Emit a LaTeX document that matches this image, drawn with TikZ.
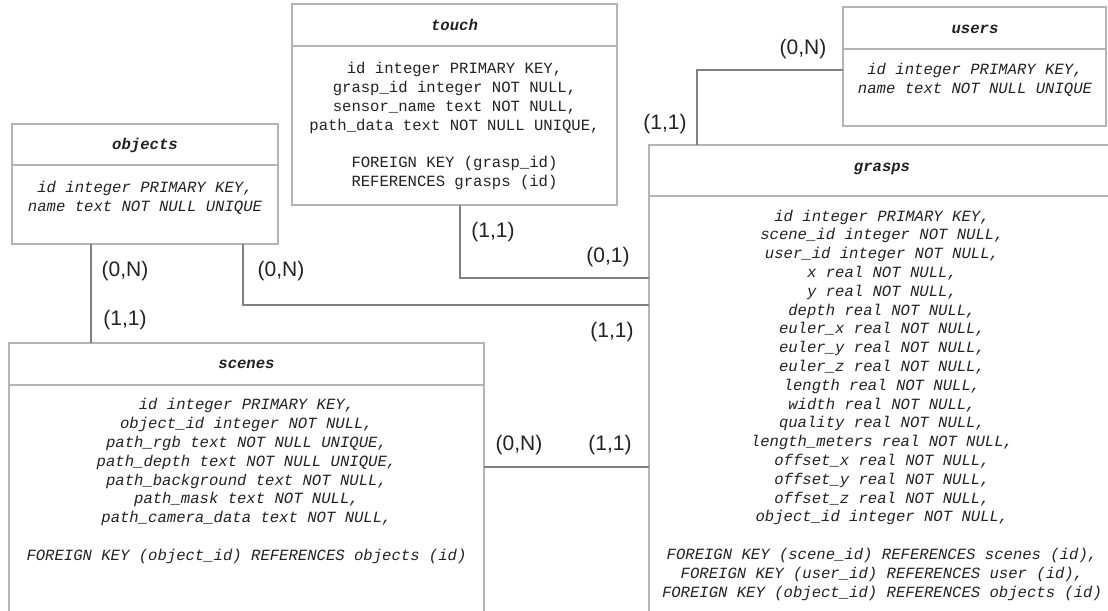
\documentclass[tikz,border=0pt]{standalone}
\usepackage{fontspec}
\newfontfamily\dbmono{Liberation Mono}
\newfontfamily\dblab{Liberation Sans}
\definecolor{boxc}{HTML}{B4B4B4}
\definecolor{linec}{HTML}{808080}
\definecolor{txt}{HTML}{222222}
\begin{document}
\begin{tikzpicture}[x=0.75pt,y=-0.75pt,
  entity/.style={draw=boxc, line width=0.9pt, rectangle, inner sep=0pt, outer sep=0pt, anchor=north west},
  sepline/.style={draw=boxc, line width=0.9pt},
  title/.style={font=\dbmono\bfseries\itshape\fontsize{11.7}{14.1}\selectfont, text=txt, inner sep=0pt, anchor=base},
  body/.style={font=\dbmono\itshape\fontsize{11.7}{14.1}\selectfont, text=txt, align=center, inner sep=0pt},
  bodyup/.style={font=\dbmono\fontsize{11.7}{14.1}\selectfont, text=txt, align=center, inner sep=0pt},
  conn/.style={draw=linec, line width=0.8pt},
  card/.style={font=\dblab\fontsize{15.75}{18}\selectfont, text=txt, inner sep=0pt}]
\useasboundingbox (0,0) rectangle (1108,611);
\clip (0,0) rectangle (1108,611);
\fill[white] (0,0) rectangle (1108,611);

% entity boxes
\node[entity, minimum width=243.75pt, minimum height=150.75pt] (touch) at (292,4) {};
\node[entity, minimum width=197.25pt, minimum height=89.25pt] (users) at (843,7) {};
\node[entity, minimum width=199.5pt, minimum height=90pt] (objects) at (12,124) {};
\node[entity, minimum width=349.5pt, minimum height=360pt] (grasps) at (649,145) {};
\node[entity, minimum width=356.25pt, minimum height=210pt] (scenes) at (9,343) {};

% header separators
\draw[sepline] ([yshift=-31.5pt]touch.north west) -- ([yshift=-31.5pt]touch.north east);
\draw[sepline] ([yshift=-31.5pt]users.north west) -- ([yshift=-31.5pt]users.north east);
\draw[sepline] ([yshift=-30.75pt]objects.north west) -- ([yshift=-30.75pt]objects.north east);
\draw[sepline] ([yshift=-38.25pt]grasps.north west) -- ([yshift=-38.25pt]grasps.north east);
\draw[sepline] ([yshift=-31.5pt]scenes.north west) -- ([yshift=-31.5pt]scenes.north east);

% titles
\node[title] (touchT) at (454.5,30) {touch};
\node[title] (usersT) at (975,33) {users};
\node[title] (objectsT) at (145,149) {objects};
\node[title] (graspsT) at (882,171) {grasps};
\node[title] (scenesT) at (246.5,368) {scenes};

% bodies
\node[bodyup] (touchB) at (454.5,126) {id integer PRIMARY KEY,\\
grasp\_id integer NOT NULL,\\
sensor\_name text NOT NULL,\\
path\_data text NOT NULL UNIQUE,\\[14.1pt]
FOREIGN KEY (grasp\_id)\\
REFERENCES grasps (id)};

\node[body] (usersB) at (975,80) {id integer PRIMARY KEY,\\
name text NOT NULL UNIQUE};

\node[body] (objectsB) at (145,197.5) {id integer PRIMARY KEY,\\
name text NOT NULL UNIQUE};

\node[body] (graspsB) at (882,405) {id integer PRIMARY KEY,\\
scene\_id integer NOT NULL,\\
user\_id integer NOT NULL,\\
x real NOT NULL,\\
y real NOT NULL,\\
depth real NOT NULL,\\
euler\_x real NOT NULL,\\
euler\_y real NOT NULL,\\
euler\_z real NOT NULL,\\
length real NOT NULL,\\
width real NOT NULL,\\
quality real NOT NULL,\\
length\_meters real NOT NULL,\\
offset\_x real NOT NULL,\\
offset\_y real NOT NULL,\\
offset\_z real NOT NULL,\\
object\_id integer NOT NULL,\\[14.1pt]
FOREIGN KEY (scene\_id) REFERENCES scenes (id),\\
FOREIGN KEY (user\_id) REFERENCES user (id),\\
FOREIGN KEY (object\_id) REFERENCES objects (id)};

\node[body] (scenesB) at (246.5,481) {id integer PRIMARY KEY,\\
object\_id integer NOT NULL,\\
path\_rgb text NOT NULL UNIQUE,\\
path\_depth text NOT NULL UNIQUE,\\
path\_background text NOT NULL,\\
path\_mask text NOT NULL,\\
path\_camera\_data text NOT NULL,\\[14.1pt]
FOREIGN KEY (object\_id) REFERENCES objects (id)};

% connectors
\draw[conn] ([yshift=-2.625pt]users.west) -| ([xshift=36pt]grasps.north west);
\draw[conn] ([xshift=4.125pt]touch.south) |- ([yshift=-99.75pt]grasps.north west);
\draw[conn] ([xshift=-26.25pt]objects.south east) |- ([yshift=-120pt]grasps.north west);
\coordinate (os) at ([xshift=59.25pt]objects.south west);
\draw[conn] (os) -- (os |- scenes.north);
\coordinate (sg) at ([yshift=-93pt]scenes.north east);
\draw[conn] (sg) -- (sg -| grasps.west);

% cardinalities
\node[card] (cUG1) at (803,49) {(0,N)};
\node[card] (cUG2) at (665,124) {(1,1)};
\node[card] (cTG1) at (493,232) {(1,1)};
\node[card] (cTG2) at (608,257) {(0,1)};
\node[card] (cOG1) at (281,271) {(0,N)};
\node[card] (cOG2) at (612,332) {(1,1)};
\node[card] (cOS1) at (125,271) {(0,N)};
\node[card] (cOS2) at (125,320) {(1,1)};
\node[card] (cSG1) at (519,445) {(0,N)};
\node[card] (cSG2) at (610,445) {(1,1)};
\end{tikzpicture}
\end{document}
